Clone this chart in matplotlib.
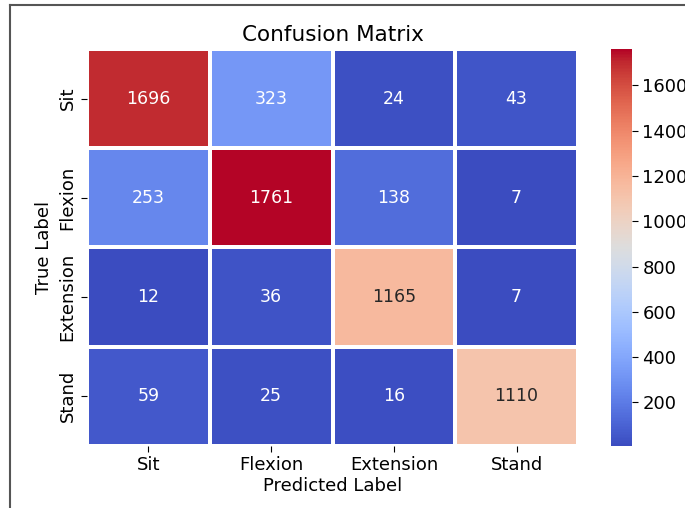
import matplotlib
matplotlib.use("Agg")
import matplotlib.pyplot as plt
import seaborn as sns
import numpy as np
from matplotlib.lines import Line2D

labels = ["Sit", "Flexion", "Extension", "Stand"]
row_sit = [1696, 323, 24, 43]
row_flexion = [253, 1761, 138, 7]
row_extension = [12, 36, 1165, 7]
row_stand = [59, 25, 16, 1110]
cbar_ticks = [200, 400, 600, 800, 1000, 1200, 1400, 1600]

cm = np.array([row_sit, row_flexion, row_extension, row_stand])

W, H = 685, 508
fig = plt.figure(figsize=(W / 100, H / 100), dpi=100)

def box(x0, y0, x1, y1):
    return [x0 / W, 1 - y1 / H, (x1 - x0) / W, (y1 - y0) / H]

ax = fig.add_axes(box(87, 49, 578, 446))
cax = fig.add_axes(box(611, 49, 632, 446))

sns.heatmap(cm, annot=True, fmt="d", cmap="coolwarm", linewidths=1.5,
            linecolor="white", xticklabels=labels, yticklabels=labels,
            ax=ax, cbar_ax=cax, annot_kws={"fontsize": 12.5})
ax.set_title("Confusion Matrix", fontsize=15.5, pad=6)
ax.set_xlabel("Predicted Label", fontsize=13, labelpad=2)
ax.set_ylabel("True Label", fontsize=13)
ax.tick_params(axis="both", labelsize=13, length=4)
ax.set_yticklabels(labels, rotation=90, va="center")
ax.set_xticklabels(labels, rotation=0)
cax.set_yticks(cbar_ticks)
cax.tick_params(labelsize=13, length=4)

# screenshot border
fig.add_artist(Line2D([10 / W, 10 / W], [0, 1 - 5 / H], color="#555555", lw=1.5))
fig.add_artist(Line2D([10 / W, 1], [1 - 5 / H, 1 - 5 / H], color="#555555", lw=1.5))

fig.savefig("out.png", dpi=100)
